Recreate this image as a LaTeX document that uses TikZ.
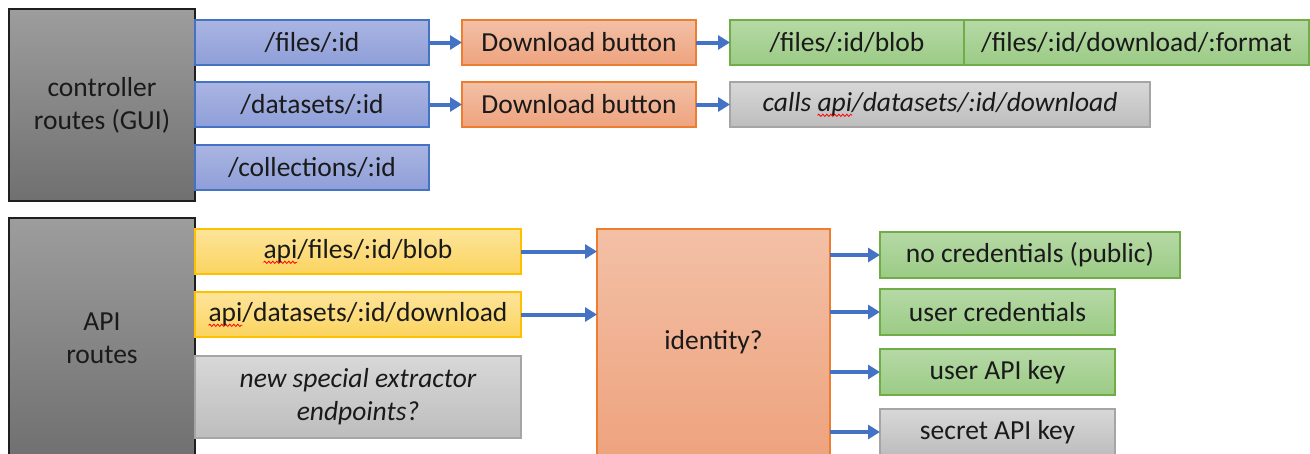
\documentclass[tikz,border=0pt]{standalone}
\usepackage{fontspec}
\setmainfont{Carlito}
\usetikzlibrary{arrows.meta,decorations.pathmorphing}
\newsavebox\wavebox
\newcommand\redwave[1]{\sbox\wavebox{#1}\rlap{\tikz[baseline=0pt]{\path[use as bounding box] (0pt,0pt) rectangle (\wd\wavebox,0.1pt);
  \draw[draw=red, fill=none, line width=0.8pt, decorate, decoration={snake, amplitude=1.1pt, segment length=4pt}] (0pt,-3.5pt) -- (\wd\wavebox,-3.5pt);}}\usebox\wavebox}
\definecolor{bluedraw}{HTML}{4472C4}
\definecolor{bluetop}{HTML}{AAB5E2}
\definecolor{bluebot}{HTML}{8E9ED8}
\definecolor{orgdraw}{HTML}{ED7D31}
\definecolor{orgtop}{HTML}{F3C0A6}
\definecolor{orgbot}{HTML}{EEA37E}
\definecolor{grndraw}{HTML}{70AD47}
\definecolor{grntop}{HTML}{B6D9A6}
\definecolor{grnbot}{HTML}{9BCB85}
\definecolor{gradraw}{HTML}{A5A5A5}
\definecolor{gratop}{HTML}{D8D8D8}
\definecolor{grabot}{HTML}{BDBDBD}
\definecolor{yeldraw}{HTML}{FFC000}
\definecolor{yeltop}{HTML}{FDE49A}
\definecolor{yelbot}{HTML}{FBD45F}
\definecolor{dkdraw}{HTML}{1F1F1F}
\definecolor{dktop}{HTML}{9D9D9D}
\definecolor{dkbot}{HTML}{707070}
\definecolor{txt}{HTML}{1A1A1A}
\begin{document}
\begin{tikzpicture}[x=1pt,y=-1pt,
  box/.style={draw, line width=1.2pt, inner sep=2pt, outer sep=0pt, anchor=north west,
    font=\fontsize{27.5}{33}\selectfont, text=txt, align=center},
  bluebox/.style={box, draw=bluedraw, top color=bluetop, bottom color=bluebot},
  orgbox/.style={box, draw=orgdraw, top color=orgtop, bottom color=orgbot},
  grnbox/.style={box, draw=grndraw, top color=grntop, bottom color=grnbot},
  grabox/.style={box, draw=gradraw, top color=gratop, bottom color=grabot},
  yelbox/.style={box, draw=yeldraw, top color=yeltop, bottom color=yelbot},
  dkbox/.style={box, draw=dkdraw, top color=dktop, bottom color=dkbot},
  arr/.style={draw=bluedraw, line width=4pt, -{Triangle[length=12pt,width=14pt]}}
]
\useasboundingbox (0,0) rectangle (1310,453);
\clip (0,0) rectangle (1310,453);
% controller routes
\node[dkbox, minimum width=186pt, minimum height=192pt] (ctrl) at (9,9) {controller\\routes (GUI)};
\node[bluebox, minimum width=234pt, minimum height=45pt] (f1) at (195,20) {/files/:id};
\node[bluebox, minimum width=234pt, minimum height=45pt] (d1) at (195,82) {/datasets/:id};
\node[bluebox, minimum width=234pt, minimum height=45pt] (c1) at (195,145) {/collections/:id};
\node[orgbox, minimum width=234pt, minimum height=45pt] (b1) at (462,20) {Download button};
\node[orgbox, minimum width=234pt, minimum height=45pt] (b2) at (462,82) {Download button};
\node[grnbox, minimum width=234pt, minimum height=45pt] (g1) at (730,20) {/files/:id/blob};
\node[grnbox, minimum width=345pt, minimum height=45pt] (g2) at (964,20) {/files/:id/download/:format};
\node[grabox, minimum width=420pt, minimum height=45pt] (calls) at (730,82) {\itshape calls \redwave{api}/datasets/:id/download};
% API routes
\node[dkbox, minimum width=186pt, minimum height=240pt] (api) at (9,218) {API\\routes};
\node[yelbox, minimum width=326pt, minimum height=45pt] (y1) at (195,229) {\redwave{api}/files/:id/blob};
\node[yelbox, minimum width=326pt, minimum height=45pt] (y2) at (195,292) {\redwave{api}/datasets/:id/download};
\node[grabox, minimum width=326pt, minimum height=82pt] (new) at (195,356) {\itshape new special extractor\\\itshape endpoints?};
\node[orgbox, minimum width=233pt, minimum height=226pt] (id) at (597,229) {identity?};
\node[grnbox, minimum width=300pt, minimum height=46pt] (n1) at (880,232) {no credentials (public)};
\node[grnbox, minimum width=235pt, minimum height=46pt] (n2) at (880,289) {user credentials};
\node[grnbox, minimum width=235pt, minimum height=46pt] (n3) at (880,349) {user API key};
\node[grabox, minimum width=235pt, minimum height=46pt] (n4) at (880,409) {secret API key};
% arrows
\draw[arr] (f1.east) -- (b1.west);
\draw[arr] (b1.east) -- (g1.west);
\draw[arr] (d1.east) -- (b2.west);
\draw[arr] (b2.east) -- (calls.west);
\draw[arr] (y1.east) -- (y1.east -| id.west);
\draw[arr] (y2.east) -- (y2.east -| id.west);
\draw[arr] (id.east |- n1.west) -- (n1.west);
\draw[arr] (id.east |- n2.west) -- (n2.west);
\draw[arr] (id.east |- n3.west) -- (n3.west);
\draw[arr] (id.east |- n4.west) -- (n4.west);
\end{tikzpicture}
\end{document}
